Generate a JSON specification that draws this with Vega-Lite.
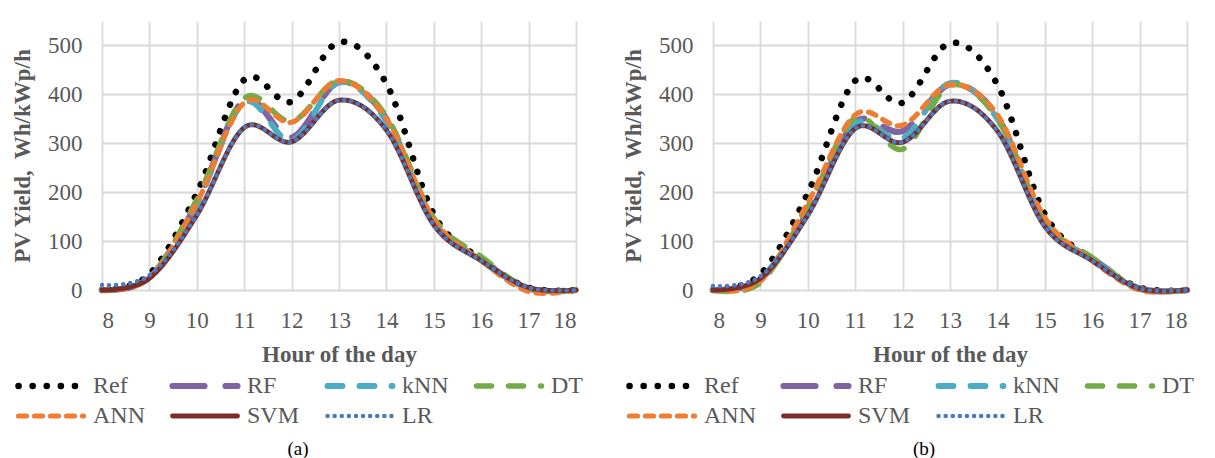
{
  "$schema": "https://vega.github.io/schema/vega-lite/v6.json",
  "background": "white",
  "padding": {"left": 11, "top": 21, "right": 0, "bottom": 0},
  "spacing": 33,
  "resolve": {
    "scale": {"color": "independent", "strokeDash": "independent", "strokeWidth": "independent"},
    "legend": {"color": "independent", "strokeDash": "independent", "strokeWidth": "independent"}
  },
  "config": {
    "view": {"stroke": null},
    "axis": {
      "labelFont": "Liberation Serif", "labelFontSize": 23, "labelColor": "#595959",
      "titleFont": "Liberation Serif", "titleFontSize": 23, "titleColor": "#595959", "titleFontWeight": "bold",
      "gridColor": "#d9d9d9", "gridWidth": 1.8, "domain": false, "ticks": false
    },
    "legend": {
      "labelFont": "Liberation Serif", "labelFontSize": 24, "labelColor": "#595959"
    },
    "title": {"font": "Liberation Serif", "fontSize": 19, "fontWeight": "normal", "color": "#000000"}
  },
  "datasets": {
    "a": [
      {"hour": 8, "model": "Ref", "value": 0}, {"hour": 9, "model": "Ref", "value": 32}, {"hour": 10, "model": "Ref", "value": 198}, {"hour": 11, "model": "Ref", "value": 430}, {"hour": 12, "model": "Ref", "value": 385}, {"hour": 13, "model": "Ref", "value": 507}, {"hour": 14, "model": "Ref", "value": 422}, {"hour": 15, "model": "Ref", "value": 155}, {"hour": 16, "model": "Ref", "value": 63}, {"hour": 17, "model": "Ref", "value": 5}, {"hour": 18, "model": "Ref", "value": 0},
      {"hour": 8, "model": "RF", "value": 0}, {"hour": 9, "model": "RF", "value": 25}, {"hour": 10, "model": "RF", "value": 178}, {"hour": 11, "model": "RF", "value": 388}, {"hour": 12, "model": "RF", "value": 312}, {"hour": 13, "model": "RF", "value": 425}, {"hour": 14, "model": "RF", "value": 350}, {"hour": 15, "model": "RF", "value": 138}, {"hour": 16, "model": "RF", "value": 62}, {"hour": 17, "model": "RF", "value": 3}, {"hour": 18, "model": "RF", "value": 0},
      {"hour": 8, "model": "kNN", "value": 0}, {"hour": 9, "model": "kNN", "value": 25}, {"hour": 10, "model": "kNN", "value": 175}, {"hour": 11, "model": "kNN", "value": 383}, {"hour": 12, "model": "kNN", "value": 305}, {"hour": 13, "model": "kNN", "value": 425}, {"hour": 14, "model": "kNN", "value": 345}, {"hour": 15, "model": "kNN", "value": 140}, {"hour": 16, "model": "kNN", "value": 60}, {"hour": 17, "model": "kNN", "value": 3}, {"hour": 18, "model": "kNN", "value": 0},
      {"hour": 8, "model": "DT", "value": 0}, {"hour": 9, "model": "DT", "value": 25}, {"hour": 10, "model": "DT", "value": 185}, {"hour": 11, "model": "DT", "value": 392}, {"hour": 12, "model": "DT", "value": 345}, {"hour": 13, "model": "DT", "value": 428}, {"hour": 14, "model": "DT", "value": 355}, {"hour": 15, "model": "DT", "value": 147}, {"hour": 16, "model": "DT", "value": 68}, {"hour": 17, "model": "DT", "value": 3}, {"hour": 18, "model": "DT", "value": 0},
      {"hour": 8, "model": "ANN", "value": 0}, {"hour": 9, "model": "ANN", "value": 25}, {"hour": 10, "model": "ANN", "value": 178}, {"hour": 11, "model": "ANN", "value": 383}, {"hour": 12, "model": "ANN", "value": 343}, {"hour": 13, "model": "ANN", "value": 428}, {"hour": 14, "model": "ANN", "value": 350}, {"hour": 15, "model": "ANN", "value": 145}, {"hour": 16, "model": "ANN", "value": 60}, {"hour": 17, "model": "ANN", "value": -3}, {"hour": 18, "model": "ANN", "value": 0},
      {"hour": 8, "model": "SVM", "value": 0}, {"hour": 9, "model": "SVM", "value": 24}, {"hour": 10, "model": "SVM", "value": 153}, {"hour": 11, "model": "SVM", "value": 332}, {"hour": 12, "model": "SVM", "value": 303}, {"hour": 13, "model": "SVM", "value": 388}, {"hour": 14, "model": "SVM", "value": 327}, {"hour": 15, "model": "SVM", "value": 133}, {"hour": 16, "model": "SVM", "value": 60}, {"hour": 17, "model": "SVM", "value": 5}, {"hour": 18, "model": "SVM", "value": 0},
      {"hour": 8, "model": "LR", "value": 10}, {"hour": 9, "model": "LR", "value": 30}, {"hour": 10, "model": "LR", "value": 153}, {"hour": 11, "model": "LR", "value": 332}, {"hour": 12, "model": "LR", "value": 303}, {"hour": 13, "model": "LR", "value": 388}, {"hour": 14, "model": "LR", "value": 327}, {"hour": 15, "model": "LR", "value": 133}, {"hour": 16, "model": "LR", "value": 60}, {"hour": 17, "model": "LR", "value": 5}, {"hour": 18, "model": "LR", "value": 0}
    ],
    "b": [
      {"hour": 8, "model": "Ref", "value": 0}, {"hour": 9, "model": "Ref", "value": 32}, {"hour": 10, "model": "Ref", "value": 198}, {"hour": 11, "model": "Ref", "value": 428}, {"hour": 12, "model": "Ref", "value": 383}, {"hour": 13, "model": "Ref", "value": 505}, {"hour": 14, "model": "Ref", "value": 420}, {"hour": 15, "model": "Ref", "value": 155}, {"hour": 16, "model": "Ref", "value": 63}, {"hour": 17, "model": "Ref", "value": 5}, {"hour": 18, "model": "Ref", "value": 0},
      {"hour": 8, "model": "RF", "value": 0}, {"hour": 9, "model": "RF", "value": 22}, {"hour": 10, "model": "RF", "value": 160}, {"hour": 11, "model": "RF", "value": 343}, {"hour": 12, "model": "RF", "value": 325}, {"hour": 13, "model": "RF", "value": 420}, {"hour": 14, "model": "RF", "value": 355}, {"hour": 15, "model": "RF", "value": 135}, {"hour": 16, "model": "RF", "value": 65}, {"hour": 17, "model": "RF", "value": 3}, {"hour": 18, "model": "RF", "value": 0},
      {"hour": 8, "model": "kNN", "value": 0}, {"hour": 9, "model": "kNN", "value": 22}, {"hour": 10, "model": "kNN", "value": 165}, {"hour": 11, "model": "kNN", "value": 340}, {"hour": 12, "model": "kNN", "value": 310}, {"hour": 13, "model": "kNN", "value": 423}, {"hour": 14, "model": "kNN", "value": 350}, {"hour": 15, "model": "kNN", "value": 140}, {"hour": 16, "model": "kNN", "value": 63}, {"hour": 17, "model": "kNN", "value": 3}, {"hour": 18, "model": "kNN", "value": 0},
      {"hour": 8, "model": "DT", "value": 0}, {"hour": 9, "model": "DT", "value": 15}, {"hour": 10, "model": "DT", "value": 170}, {"hour": 11, "model": "DT", "value": 352}, {"hour": 12, "model": "DT", "value": 288}, {"hour": 13, "model": "DT", "value": 418}, {"hour": 14, "model": "DT", "value": 350}, {"hour": 15, "model": "DT", "value": 140}, {"hour": 16, "model": "DT", "value": 66}, {"hour": 17, "model": "DT", "value": 2}, {"hour": 18, "model": "DT", "value": 0},
      {"hour": 8, "model": "ANN", "value": 0}, {"hour": 9, "model": "ANN", "value": 18}, {"hour": 10, "model": "ANN", "value": 178}, {"hour": 11, "model": "ANN", "value": 358}, {"hour": 12, "model": "ANN", "value": 337}, {"hour": 13, "model": "ANN", "value": 420}, {"hour": 14, "model": "ANN", "value": 358}, {"hour": 15, "model": "ANN", "value": 148}, {"hour": 16, "model": "ANN", "value": 60}, {"hour": 17, "model": "ANN", "value": 0}, {"hour": 18, "model": "ANN", "value": 0},
      {"hour": 8, "model": "SVM", "value": 0}, {"hour": 9, "model": "SVM", "value": 24}, {"hour": 10, "model": "SVM", "value": 153}, {"hour": 11, "model": "SVM", "value": 330}, {"hour": 12, "model": "SVM", "value": 302}, {"hour": 13, "model": "SVM", "value": 386}, {"hour": 14, "model": "SVM", "value": 325}, {"hour": 15, "model": "SVM", "value": 130}, {"hour": 16, "model": "SVM", "value": 60}, {"hour": 17, "model": "SVM", "value": 3}, {"hour": 18, "model": "SVM", "value": 0},
      {"hour": 8, "model": "LR", "value": 8}, {"hour": 9, "model": "LR", "value": 28}, {"hour": 10, "model": "LR", "value": 153}, {"hour": 11, "model": "LR", "value": 330}, {"hour": 12, "model": "LR", "value": 302}, {"hour": 13, "model": "LR", "value": 386}, {"hour": 14, "model": "LR", "value": 325}, {"hour": 15, "model": "LR", "value": 130}, {"hour": 16, "model": "LR", "value": 60}, {"hour": 17, "model": "LR", "value": 3}, {"hour": 18, "model": "LR", "value": 0}
    ]
  },
  "hconcat": [
    {
      "data": {"name": "a"},
      "width": 474, "height": 269,
      "title": {"text": "(a)", "orient": "bottom", "offset": 12, "dx": -41},
      "mark": {"type": "line", "interpolate": "cardinal", "strokeCap": "round"},
      "encoding": {
        "x": {"field": "hour", "type": "quantitative", "scale": {"domain": [8, 18], "nice": false},
              "axis": {"values": [8, 9, 10, 11, 12, 13, 14, 15, 16, 17, 18], "title": "Hour of the day", "labelFont": "Liberation Serif", "labelPadding": 19, "titlePadding": 11}},
        "y": {"field": "value", "type": "quantitative", "scale": {"domain": [0, 550], "nice": false},
              "axis": {"values": [0, 100, 200, 300, 400, 500], "title": "PV Yield,\u00a0 Wh/kWp/h", "labelFont": "Liberation Serif", "labelPadding": 20, "titlePadding": 13}},
        "color": {"field": "model", "type": "nominal",
                  "scale": {"domain": ["Ref", "RF", "kNN", "DT", "ANN", "SVM", "LR"], "range": ["#000000", "#8064A2", "#4BACC6", "#70AD47", "#ED7D31", "#7A2C2A", "#4A7BC0"]},
                  "legend": {"title": null, "orient": "none", "direction": "horizontal", "legendX": -87, "legendY": 354, "columns": 4, "symbolType": "stroke", "symbolSize": 4225, "columnPadding": 24, "rowPadding": 6, "clipHeight": 22, "labelOffset": 6,
                             "encode": {"symbols": {"update": {"strokeCap": {"value": "round"}}}}}},
        "strokeDash": {"field": "model", "type": "nominal",
                  "scale": {"domain": ["Ref", "RF", "kNN", "DT", "ANN", "SVM", "LR"], "range": [[0.1, 14], [32, 21], [15, 17], [15, 17], [8, 8], [1, 0], [0.1, 7]]}},
        "strokeWidth": {"field": "model", "type": "nominal",
                  "scale": {"domain": ["Ref", "RF", "kNN", "DT", "ANN", "SVM", "LR"], "range": [6.5, 4.5, 4.5, 4.5, 4, 4.5, 3.5]}}
      }
    },
    {
      "data": {"name": "b"},
      "width": 474, "height": 269,
      "title": {"text": "(b)", "orient": "bottom", "offset": 12, "dx": -26},
      "mark": {"type": "line", "interpolate": "cardinal", "strokeCap": "round"},
      "encoding": {
        "x": {"field": "hour", "type": "quantitative", "scale": {"domain": [8, 18], "nice": false},
              "axis": {"values": [8, 9, 10, 11, 12, 13, 14, 15, 16, 17, 18], "title": "Hour of the day", "labelFont": "Liberation Serif", "labelPadding": 19, "titlePadding": 11}},
        "y": {"field": "value", "type": "quantitative", "scale": {"domain": [0, 550], "nice": false},
              "axis": {"values": [0, 100, 200, 300, 400, 500], "title": "PV Yield,\u00a0 Wh/kWp/h", "labelFont": "Liberation Serif", "labelPadding": 20, "titlePadding": 13}},
        "color": {"field": "model", "type": "nominal",
                  "scale": {"domain": ["Ref", "RF", "kNN", "DT", "ANN", "SVM", "LR"], "range": ["#000000", "#8064A2", "#4BACC6", "#70AD47", "#ED7D31", "#7A2C2A", "#4A7BC0"]},
                  "legend": {"title": null, "orient": "none", "direction": "horizontal", "legendX": -87, "legendY": 354, "columns": 4, "symbolType": "stroke", "symbolSize": 4225, "columnPadding": 24, "rowPadding": 6, "clipHeight": 22, "labelOffset": 6,
                             "encode": {"symbols": {"update": {"strokeCap": {"value": "round"}}}}}},
        "strokeDash": {"field": "model", "type": "nominal",
                  "scale": {"domain": ["Ref", "RF", "kNN", "DT", "ANN", "SVM", "LR"], "range": [[0.1, 14], [32, 21], [15, 17], [15, 17], [8, 8], [1, 0], [0.1, 7]]}},
        "strokeWidth": {"field": "model", "type": "nominal",
                  "scale": {"domain": ["Ref", "RF", "kNN", "DT", "ANN", "SVM", "LR"], "range": [6.5, 4.5, 4.5, 4.5, 4, 4.5, 3.5]}}
      }
    }
  ]
}
